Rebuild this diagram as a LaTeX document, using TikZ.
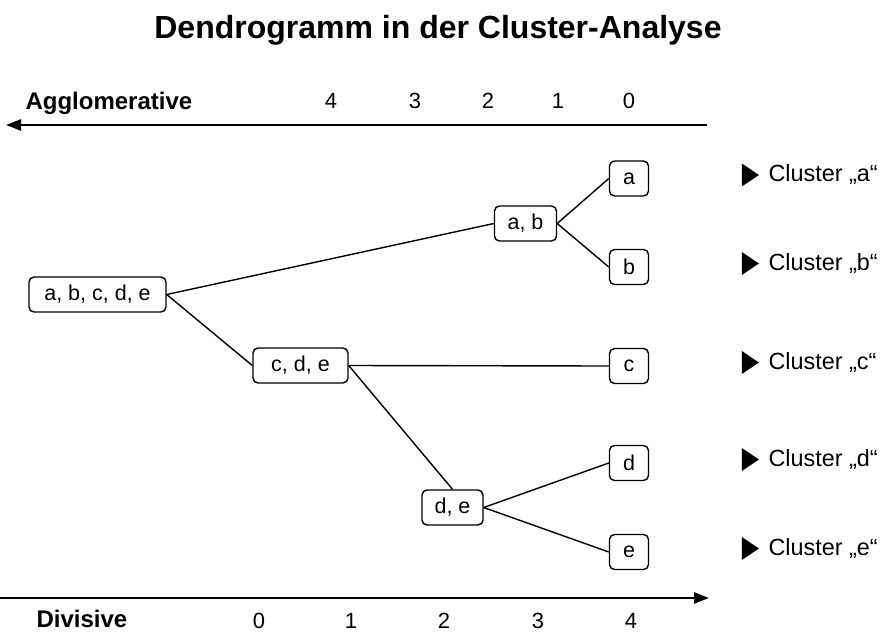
\documentclass[tikz,border=0pt]{standalone}
\usepackage{fontspec}
\setmainfont{Liberation Sans}
\usetikzlibrary{arrows.meta, shapes.geometric}

\tikzset{
  clbox/.style={draw, line width=1.4pt, rounded corners=5pt, minimum height=35pt,
    inner sep=0pt, font=\fontsize{21.5}{24}\selectfont},
  leaf/.style={clbox, minimum width=39pt},
  link/.style={line width=1.4pt},
  axis/.style={line width=2.4pt, -{Triangle[length=15pt,width=11pt]}},
  axlabel/.style={font=\fontsize{24}{28}\selectfont\bfseries, anchor=west},
  level/.style={font=\fontsize{22}{26}\selectfont},
  tag/.style={font=\fontsize{23.4}{27}\selectfont, anchor=west},
  marker/.style={fill=black, draw=none, isosceles triangle, isosceles triangle apex angle=68,
    minimum height=17pt, inner sep=0pt}
}

\begin{document}
\begin{tikzpicture}[x=1pt, y=-1pt]
  \useasboundingbox (0,0) rectangle (887,632);

  % heading
  \node[font=\fontsize{32}{38}\selectfont\bfseries] (title) at (438,30) {Dendrogramm in der Cluster-Analyse};

  % agglomerative axis (top)
  \node[axlabel] (agg) at (22,103) {Agglomerative};
  \coordinate (aggS) at (707,125);
  \coordinate (aggE) at (6,125);
  \draw[axis] (aggS) -- (aggE);
  \node[level] (t4) at (331,101) {4};
  \node[level] (t3) at (415,101) {3};
  \node[level] (t2) at (488,101) {2};
  \node[level] (t1) at (558,101) {1};
  \node[level] (t0) at (629,101) {0};

  % divisive axis (bottom)
  \coordinate (divS) at (0,598);
  \coordinate (divE) at (709,598);
  \draw[axis] (divS) -- (divE);
  \node[axlabel] (div) at (33,619) {Divisive};
  \node[level] (b0) at (259,621) {0};
  \node[level] (b1) at (351,621) {1};
  \node[level] (b2) at (444,621) {2};
  \node[level] (b3) at (538,621) {3};
  \node[level] (b4) at (631,621) {4};

  % cluster nodes
  \node[clbox, minimum width=137pt] (abcde) at (97.5,294.5) {a, b, c, d, e};
  \node[clbox, minimum width=95pt]  (cde)   at (300.5,365.5) {c, d, e};
  \node[clbox, minimum width=62pt]  (ab)    at (525.5,223.5) {a, b};
  \node[clbox, minimum width=61pt]  (de)    at (452.5,507.5) {d, e};
  \node[leaf] (a) at (629,178.5) {a};
  \node[leaf] (b) at (629,267) {b};
  \node[leaf] (c) at (629,366) {c};
  \node[leaf] (d) at (629,463) {d};
  \node[leaf] (e) at (629,552) {e};

  % tree links
  \draw[link] (abcde.east) -- (ab.west);
  \draw[link] (abcde.east) -- (cde.west);
  \draw[link] (ab.east) -- (a.west);
  \draw[link] (ab.east) -- (b.west);
  \draw[link] (cde.east) -- (c.west);
  \draw[link] (cde.east) -- (de.north);
  \draw[link] (de.east) -- (d.west);
  \draw[link] (de.east) -- (e.west);

  % resulting clusters
  \foreach \n/\y in {a/175, b/263.5, c/362.5, d/459.5, e/548.5} {
    \node[marker] (m\n) at (748,\y) {};
    \node[tag] (l\n) at (765,\y) {Cluster „\n“};
  }
\end{tikzpicture}
\end{document}
